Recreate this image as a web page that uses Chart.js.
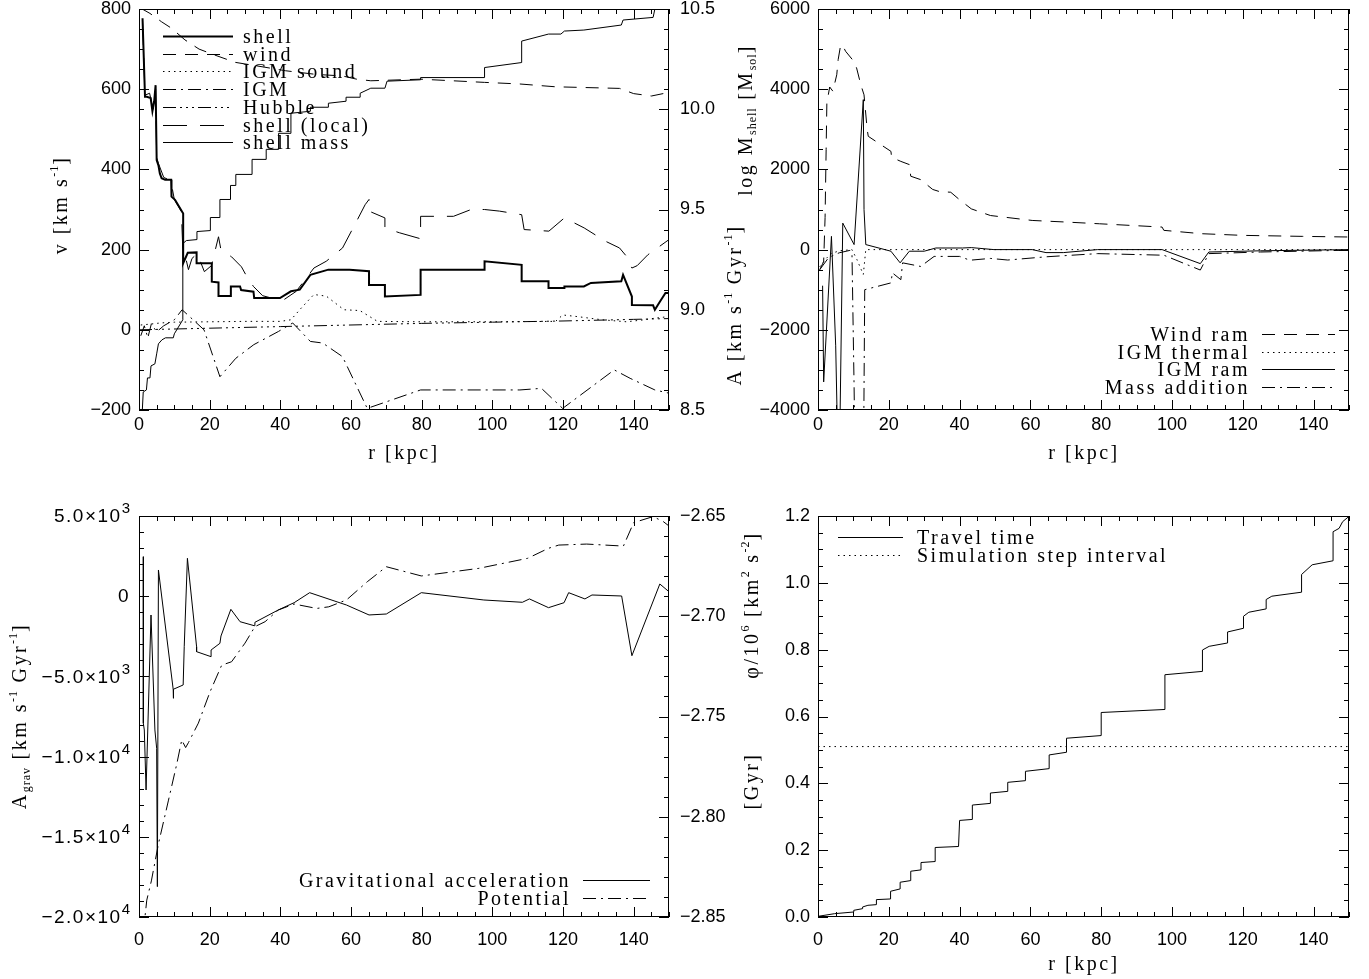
<!DOCTYPE html>
<html>
<head>
<meta charset="utf-8">
<script src="https://cdn.jsdelivr.net/npm/chart.js@4.4.1/dist/chart.umd.min.js"></script>
<style>
html, body { margin: 0; padding: 0; background: #fff; }
#wrap { position: relative; width: 1369px; height: 979px; }
#wrap canvas { position: absolute; left: 0; top: 0; }
</style>
</head>
<body>
<div id="wrap">
  <canvas id="c1" width="1369" height="979"></canvas>
  <canvas id="c2" width="1369" height="979"></canvas>
  <canvas id="c3" width="1369" height="979"></canvas>
  <canvas id="c4" width="1369" height="979"></canvas>
</div>
<script>
// ---- panel 1: velocities (left axis) and shell mass (right axis) ----
const shellR = [1.0, 1.7, 2.2, 3.3, 3.8, 4.3, 4.7, 5.0, 5.5, 5.9, 6.4, 7.4, 9.1, 9.2, 10.2, 12.5, 12.5, 13.8, 16.3, 16.3, 20.6, 20.6, 22.5, 22.5, 26.0, 26.0, 28.6, 28.9, 32.4, 32.6, 39.9, 43.0, 45.5, 48.5, 53.6, 59.6, 65.1, 65.1, 69.6, 69.6, 79.7, 79.7, 97.8, 97.8, 108.3, 108.3, 115.9, 115.9, 120.4, 120.4, 125.9, 127.9, 136.5, 137.0, 139.5, 139.5, 145.5, 146.0, 147.5, 149.0, 150.0];
const shellV = [777, 581, 581, 578, 545, 570, 610, 423, 410, 390, 378, 374, 374, 332, 324, 290, 166, 192, 193, 166, 166, 120, 118, 84, 84, 108, 108, 99, 95, 79, 79, 96, 100, 137, 150, 150, 146, 112, 112, 83, 87, 150, 150, 171, 162, 121, 121, 104, 104, 108, 108, 117, 121, 137, 83, 62, 61, 50, 71, 92, 92];

const windR = [0.5, 3.1, 6.4, 9.2, 13.0, 17.0, 21.5, 27.2, 35.5, 41.5, 50.0, 57.6, 61.6, 65.6, 79.7, 97.8, 107.8, 117.9, 136.0, 140.0, 145.0, 150.0];
const windV = [802, 789, 768, 752, 723, 700, 685, 667, 655, 646, 637, 633, 625, 621, 625, 617, 613, 606, 602, 589, 583, 592];

const soundR = [0.5, 3.0, 6.0, 10.0, 20.0, 30.0, 40.0, 43.0, 46.0, 49.5, 53.0, 58.0, 62.5, 67.5, 80.0, 100.0, 117.9, 119.9, 124.0, 131.0, 138.0, 143.0, 146.0, 150.0];
const soundV = [12, 14, 17, 19, 20, 21, 21, 25, 55, 88, 84, 50, 48, 21, 20, 20, 21, 37, 33, 25, 20, 25, 29, 33];

const igmR = [0.5, 1.5, 2.5, 3.5, 5.0, 7.0, 10.0, 12.2, 18.4, 22.9, 27.4, 32.5, 39.5, 43.5, 48.5, 52.0, 57.6, 64.6, 79.7, 97.8, 107.8, 113.9, 119.9, 134.5, 139.0, 146.0, 150.0];
const igmV = [-15, 10, -20, 15, -5, 10, 25, 50, 0, -117, -71, -37, -4, 17, -29, -33, -67, -196, -150, -150, -150, -146, -196, -100, -121, -150, -158];

const hubbleR = [0, 20, 40, 60, 80, 100, 120, 140, 150];
const hubbleV = [0, 4, 8, 12, 16, 19, 22, 26, 28];

const localR = [1.0, 1.7, 3.0, 4.0, 4.7, 5.0, 5.5, 7.0, 9.0, 10.0, 12.0, 12.4, 13.2, 14.0, 15.0, 16.5, 18.5, 20.5, 22.5, 23.2, 26.2, 29.0, 30.5, 32.4, 35.0, 38.0, 41.0, 44.5, 49.5, 53.0, 57.6, 61.6, 64.0, 65.1, 65.1, 69.6, 69.6, 73.7, 79.7, 79.7, 89.0, 94.0, 97.8, 102.0, 108.3, 109.0, 116.0, 120.4, 126.0, 132.0, 136.0, 138.0, 139.5, 141.0, 144.0, 150.0];
const localV = [770, 585, 590, 550, 600, 430, 415, 380, 372, 325, 295, 200, 180, 150, 178, 190, 145, 160, 232, 199, 182, 157, 133, 108, 85, 78, 75, 96, 154, 171, 204, 271, 312, 325, 296, 279, 254, 242, 227, 283, 283, 300, 300, 296, 287, 250, 246, 279, 254, 221, 204, 183, 154, 160, 187, 225];

const massR = [0.8, 1.2, 2.1, 2.4, 3.1, 3.4, 4.5, 5.0, 5.5, 6.5, 7.5, 9.7, 10.0, 12.4, 12.4, 13.4, 16.4, 16.4, 20.2, 20.2, 22.9, 22.9, 25.9, 25.9, 27.4, 27.4, 32.0, 32.0, 36.0, 36.0, 39.5, 39.5, 43.0, 43.0, 48.5, 48.5, 53.6, 53.6, 58.6, 58.6, 62.6, 62.6, 65.6, 69.6, 70.2, 79.7, 79.7, 97.8, 97.8, 108.3, 108.3, 115.9, 119.4, 120.4, 125.9, 136.5, 137.0, 145.5, 146.0, 150.0];
const massM = [8.45, 8.59, 8.60, 8.66, 8.66, 8.72, 8.73, 8.78, 8.83, 8.85, 8.86, 8.86, 8.88, 8.95, 9.33, 9.345, 9.35, 9.39, 9.395, 9.46, 9.46, 9.55, 9.55, 9.62, 9.62, 9.675, 9.675, 9.75, 9.75, 9.80, 9.80, 9.88, 9.88, 9.98, 9.99, 10.01, 10.01, 10.03, 10.04, 10.06, 10.06, 10.08, 10.105, 10.105, 10.14, 10.147, 10.158, 10.158, 10.208, 10.233, 10.34, 10.375, 10.375, 10.39, 10.395, 10.42, 10.445, 10.458, 10.50, 10.51];

// ---- panel 2: accelerations ----
const windRamR = [0.5, 1.6, 2.0, 2.3, 2.5, 3.3, 4.2, 5.3, 5.7, 6.4, 6.9, 7.8, 9.7, 10.9, 12.1, 13.0, 13.9, 14.2, 20.6, 20.8, 23.4, 25.8, 26.2, 29.0, 32.4, 34.2, 37.5, 39.9, 43.3, 48.7, 60.5, 70.3, 79.5, 97.2, 97.7, 108.4, 120.0, 136.8, 150.0];
const windRamA = [-500, -300, 800, 2500, 3650, 4055, 3950, 4360, 4740, 5100, 5100, 4945, 4740, 4530, 4110, 3860, 2990, 2825, 2450, 2300, 2200, 2120, 1830, 1745, 1500, 1450, 1430, 1250, 1016, 850, 727, 686, 644, 562, 480, 396, 355, 330, 314];

const thermR = [0.5, 2.0, 3.7, 6.0, 9.6, 11.0, 12.8, 13.5, 150.0];
const thermA = [-430, -250, -100, -30, 0, -250, -620, 0, 0];

const ramR = [1.3, 1.6, 3.8, 5.0, 5.6, 6.1, 7.0, 10.2, 12.8, 13.0, 13.5, 20.6, 23.2, 25.8, 30.0, 33.3, 40.8, 43.3, 49.7, 60.5, 64.4, 69.3, 79.0, 97.2, 108.0, 110.4, 125.0, 150.0];
const ramA = [-900, -3300, 330, -2400, -5000, -5000, 660, 125, 3740, 1000, 125, -40, -330, -40, -40, 40, 40, 50, 0, 0, -75, -75, 0, 0, -350, -60, -30, 0];

const massAddR = [0.5, 3.0, 6.0, 9.0, 9.6, 10.2, 10.6, 12.8, 13.2, 20.6, 21.0, 23.4, 23.9, 29.0, 32.8, 40.0, 42.9, 48.7, 53.6, 64.4, 79.0, 97.7, 108.0, 110.4, 125.0, 150.0];
const massAddA = [-500, -200, -80, -20, -100, -3450, -6000, -6000, -1000, -830, -580, -750, -330, -420, -170, -170, -265, -220, -260, -180, -100, -140, -510, -100, -60, -15];

// ---- panel 3: gravitational acceleration and potential ----
const gravR = [1.23, 1.23, 1.5, 2.0, 3.4, 4.5, 5.0, 5.2, 5.5, 9.7, 9.7, 9.8, 12.5, 12.8, 13.7, 16.3, 16.3, 20.4, 20.4, 22.9, 23.2, 26.0, 28.6, 32.6, 32.8, 39.4, 43.9, 48.3, 58.7, 65.1, 70.0, 79.9, 97.6, 108.5, 110.5, 115.9, 120.3, 121.6, 126.2, 128.2, 136.6, 139.5, 147.4, 150.0];
const gravA = [2463, -7925, -8341, -12081, -1172, -8341, -9483, -18107, 1634, -5847, -6367, -5800, -5535, -3148, 2363, -3148, -3459, -3771, -3354, -2938, -2481, -818, -1589, -1838, -1628, -860, -405, 219, -548, -1170, -1110, 219, -236, -380, -170, -715, -405, 219, -170, 75, 13, -3710, 760, 280];

const phiR = [1.2, 2.2, 3.5, 5.5, 8.3, 10.7, 12.1, 13.2, 14.0, 16.8, 20.1, 23.4, 26.2, 30.0, 32.8, 35.7, 39.4, 43.9, 50.3, 53.7, 58.7, 64.6, 70.0, 79.9, 96.2, 110.0, 115.9, 118.8, 126.7, 137.1, 140.0, 145.5, 148.4, 150.0];
const phiV = [-2.858, -2.8416, -2.832, -2.8135, -2.7921, -2.7736, -2.7617, -2.7655, -2.763, -2.7533, -2.7377, -2.7244, -2.7227, -2.7134, -2.7052, -2.7027, -2.6969, -2.6939, -2.6961, -2.6953, -2.6919, -2.6828, -2.6753, -2.6799, -2.6761, -2.6711, -2.6661, -2.6645, -2.664, -2.665, -2.6533, -2.6503, -2.6528, -2.655];

// ---- panel 4: travel time ----
const travelR = [0, 4.7, 10.1, 10.1, 12.6, 12.6, 14.1, 16.5, 16.5, 20.5, 20.5, 23.2, 23.2, 26.2, 26.2, 29.1, 29.1, 33.1, 33.1, 39.7, 40.0, 43.6, 43.6, 48.7, 48.7, 53.6, 53.6, 58.6, 58.6, 65.3, 65.3, 70.2, 70.2, 80.0, 80.0, 98.0, 98.0, 108.6, 108.6, 110.5, 115.7, 115.7, 120.2, 120.2, 121.7, 126.6, 126.6, 128.2, 136.6, 136.6, 139.6, 145.5, 145.5, 147.2, 148.2, 149.9];
const travelT = [0.002, 0.01, 0.015, 0.02, 0.025, 0.03, 0.035, 0.037, 0.052, 0.054, 0.077, 0.084, 0.104, 0.109, 0.137, 0.141, 0.163, 0.166, 0.208, 0.211, 0.289, 0.292, 0.335, 0.34, 0.371, 0.376, 0.403, 0.408, 0.436, 0.444, 0.485, 0.493, 0.535, 0.543, 0.612, 0.621, 0.725, 0.735, 0.799, 0.81, 0.82, 0.853, 0.864, 0.9, 0.912, 0.922, 0.95, 0.96, 0.972, 1.025, 1.054, 1.066, 1.153, 1.163, 1.183, 1.198];

const stepR = [0, 150];
const stepT = [0.51, 0.51];

// ---- ticks and labels ----
const rTicks = [0, 20, 40, 60, 80, 100, 120, 140];
const rLabels = ['0', '20', '40', '60', '80', '100', '120', '140'];
const vTicks = [-200, 0, 200, 400, 600, 800];
const vLabels = ['\u2212200', '0', '200', '400', '600', '800'];
const massTicks = [8.5, 9.0, 9.5, 10.0, 10.5];
const massLabels = ['8.5', '9.0', '9.5', '10.0', '10.5'];
const accTicks = [-4000, -2000, 0, 2000, 4000, 6000];
const accLabels = ['\u22124000', '\u22122000', '0', '2000', '4000', '6000'];
const gravTicks = [-20000, -15000, -10000, -5000, 0, 5000];
const gravMant = ['\u22122.0\u00d710', '\u22121.5\u00d710', '\u22121.0\u00d710', '\u22125.0\u00d710', '0', '5.0\u00d710'];
const gravExp = ['4', '4', '4', '3', '', '3'];
const phiTicks = [-2.85, -2.80, -2.75, -2.70, -2.65];
const phiLabels = ['\u22122.85', '\u22122.80', '\u22122.75', '\u22122.70', '\u22122.65'];
const timeTicks = [0, 0.2, 0.4, 0.6, 0.8, 1.0, 1.2];
const timeLabels = ['0.0', '0.2', '0.4', '0.6', '0.8', '1.0', '1.2'];

const SANS = '"Liberation Sans", Arial, sans-serif';
const TICK_FONT = { family: SANS, size: 18 };
const SERIF = '"Liberation Serif", "Times New Roman", serif';
const LS = '2.5px';

// IDL-like line styles
const SOLID = [];
const DOT = [1.5, 4];
const DASH = [13, 9];
const DASHDOT = [13, 5, 2, 5];
const DASH3DOT = [13, 4, 2, 4, 2, 4, 2, 4];
const LONGDASH = [24, 13];

function pts(xs, ys) {
    return xs.map((x, i) => ({ x: x, y: ys[i] }));
}

function series(label, xs, ys, dash, width, axis) {
    return {
        label: label,
        data: pts(xs, ys),
        borderColor: '#000',
        borderWidth: width || 1,
        borderDash: dash,
        pointRadius: 0,
        pointHoverRadius: 0,
        tension: 0,
        fill: false,
        yAxisID: axis || 'y'
    };
}

function noPad(s) {
    s.paddingTop = 0; s.paddingBottom = 0; s.paddingLeft = 0; s.paddingRight = 0;
}

function xAxis(height, pad) {
    return {
        type: 'linear', position: 'bottom', min: 0, max: 150,
        afterBuildTicks: s => { s.ticks = rTicks.map(v => ({ value: v })); },
        afterFit: s => { s.height = height; noPad(s); },
        grid: { display: false, drawTicks: false },
        border: { display: false },
        ticks: { font: TICK_FONT, color: '#000', padding: pad, maxRotation: 0, autoSkip: false,
                 callback: (v, i) => rLabels[i] }
    };
}

function yAxis(pos, min, max, vals, labels, width, pad, show) {
    return {
        type: 'linear', position: pos, min: min, max: max,
        afterBuildTicks: s => { s.ticks = vals.map(v => ({ value: v })); },
        afterFit: s => { s.width = width; noPad(s); },
        grid: { display: false, drawTicks: false },
        border: { display: false },
        ticks: { display: show !== false, font: TICK_FONT, color: '#000', padding: pad, autoSkip: false,
                 callback: (v, i) => labels ? labels[i] : '' }
    };
}

// text with sub/superscripts, optionally rotated to read bottom-up
function drawRich(ctx, parts, x, y, rot) {
    const size = 20;
    ctx.save();
    ctx.translate(x, y);
    if (rot) ctx.rotate(-Math.PI / 2);
    ctx.fillStyle = '#000';
    ctx.textAlign = 'left';
    ctx.textBaseline = 'alphabetic';
    const segs = parts.map(p => {
        const fs = p[1] ? 12 : size;
        ctx.font = fs + 'px ' + SERIF;
        ctx.letterSpacing = p[1] ? '1px' : LS;
        return { t: p[0], k: p[1], fs: fs, w: ctx.measureText(p[0]).width };
    });
    let cx = -segs.reduce((s, g) => s + g.w, 0) / 2;
    segs.forEach(g => {
        ctx.font = g.fs + 'px ' + SERIF;
        ctx.letterSpacing = g.k ? '1px' : LS;
        const dy = g.k === '^' ? -size * 0.42 : (g.k === '_' ? size * 0.22 : 0);
        ctx.fillText(g.t, cx, size * 0.33 + dy);
        cx += g.w;
    });
    ctx.restore();
}

// y tick labels written as mantissa x 10^exp, placed by the scale
function drawPowerLabels(chart, scaleId, vals, mant, exps, gap) {
    const s = chart.scales[scaleId], a = chart.chartArea, ctx = chart.ctx;
    ctx.save();
    ctx.fillStyle = '#000';
    ctx.textAlign = 'left';
    ctx.textBaseline = 'middle';
    vals.forEach((v, i) => {
        const p = s.getPixelForValue(v);
        ctx.letterSpacing = '1.5px';
        ctx.font = '19px ' + SANS;
        const wm = ctx.measureText(mant[i]).width;
        ctx.font = '15px ' + SANS;
        ctx.letterSpacing = '0px';
        const we = exps[i] ? ctx.measureText(exps[i]).width : 0;
        const x0 = a.left - gap - we - wm;
        ctx.font = '19px ' + SANS;
        ctx.letterSpacing = '1.5px';
        ctx.fillText(mant[i], x0, p + 1);
        if (exps[i]) {
            ctx.font = '15px ' + SANS;
            ctx.letterSpacing = '0px';
            ctx.fillText(exps[i], x0 + wm, p - 7);
        }
    });
    ctx.restore();
}

function drawTicks(chart, t) {
    const s = chart.scales[t.scale], a = chart.chartArea, ctx = chart.ctx;
    const n = Math.round((s.max - s.min) / t.minor);
    ctx.beginPath();
    const mark = (v, len) => {
        const p = Math.round(s.getPixelForValue(v)) + 0.5;
        if (t.side === 'bottom') { ctx.moveTo(p, a.bottom); ctx.lineTo(p, a.bottom - len); }
        else if (t.side === 'top') { ctx.moveTo(p, a.top); ctx.lineTo(p, a.top + len); }
        else if (t.side === 'left') { ctx.moveTo(a.left, p); ctx.lineTo(a.left + len, p); }
        else { ctx.moveTo(a.right, p); ctx.lineTo(a.right - len, p); }
    };
    for (let i = 0; i <= n; i++) mark(s.min + i * t.minor, 5);
    t.major.forEach(v => mark(v, 10));
    ctx.stroke();
}

function drawLegend(chart, lg) {
    const ctx = chart.ctx;
    lg.items.forEach((idx, k) => {
        const ds = chart.data.datasets[idx];
        const y = Math.round(lg.y0 + k * lg.dy) + 0.5;
        ctx.beginPath();
        ctx.setLineDash(ds.borderDash);
        ctx.lineWidth = ds.borderWidth;
        ctx.strokeStyle = '#000';
        ctx.moveTo(lg.x0, y);
        ctx.lineTo(lg.x1, y);
        ctx.stroke();
        ctx.setLineDash([]);
        ctx.font = '20px ' + SERIF;
        ctx.letterSpacing = LS;
        ctx.fillStyle = '#000';
        ctx.textAlign = lg.align;
        ctx.textBaseline = 'middle';
        ctx.fillText(ds.label, lg.tx, y + 1);
        ctx.letterSpacing = '0px';
    });
}

const rTitle = [['r [kpc]', '']];
const decorations = {
    c1: {
        ticks: [
            { scale: 'x', side: 'bottom', major: rTicks, minor: 5 },
            { scale: 'x', side: 'top', major: rTicks, minor: 5 },
            { scale: 'y', side: 'left', major: vTicks, minor: 50 },
            { scale: 'y2', side: 'right', major: massTicks, minor: 0.1 }
        ],
        titles: [
            { parts: [['v [km s', ''], ['-1', '^'], [']', '']], x: 60, y: 205, rot: true },
            { parts: [['log M', ''], ['shell', '_'], [' [M', ''], ['sol', '_'], [']', '']], x: 745, y: 120, rot: true },
            { parts: rTitle, x: 404, y: 452, rot: false }
        ],
        legend: { items: [0, 1, 2, 3, 4, 5, 6], x0: 163, x1: 233, tx: 243, align: 'left', y0: 36, dy: 17.7 }
    },
    c2: {
        ticks: [
            { scale: 'x', side: 'bottom', major: rTicks, minor: 5 },
            { scale: 'x', side: 'top', major: rTicks, minor: 5 },
            { scale: 'y', side: 'left', major: accTicks, minor: 500 },
            { scale: 'y', side: 'right', major: accTicks, minor: 500 }
        ],
        titles: [
            { parts: [['A [km s', ''], ['-1', '^'], [' Gyr', ''], ['-1', '^'], [']', '']], x: 734, y: 305, rot: true },
            { parts: rTitle, x: 1084, y: 452, rot: false }
        ],
        legend: { items: [0, 1, 2, 3], x0: 1262, x1: 1335, tx: 1250, align: 'right', y0: 334, dy: 17.7 }
    },
    c3: {
        ticks: [
            { scale: 'x', side: 'bottom', major: rTicks, minor: 5 },
            { scale: 'x', side: 'top', major: rTicks, minor: 5 },
            { scale: 'y', side: 'left', major: gravTicks, minor: 1000 },
            { scale: 'y2', side: 'right', major: phiTicks, minor: 0.01 }
        ],
        powers: true,
        titles: [
            { parts: [['A', ''], ['grav', '_'], [' [km s', ''], ['-1', '^'], [' Gyr', ''], ['-1', '^'], [']', '']], x: 19, y: 716, rot: true },
            { parts: [['\u03c6/10', ''], ['6', '^'], [' [km', ''], ['2', '^'], [' s', ''], ['-2', '^'], [']', '']], x: 751, y: 605, rot: true }
        ],
        legend: { items: [0, 1], x0: 583, x1: 650, tx: 571, align: 'right', y0: 880, dy: 17.5 }
    },
    c4: {
        ticks: [
            { scale: 'x', side: 'bottom', major: rTicks, minor: 5 },
            { scale: 'x', side: 'top', major: rTicks, minor: 5 },
            { scale: 'y', side: 'left', major: timeTicks, minor: 0.05 },
            { scale: 'y', side: 'right', major: timeTicks, minor: 0.05 }
        ],
        titles: [
            { parts: [['[Gyr]', '']], x: 751, y: 781, rot: true },
            { parts: rTitle, x: 1084, y: 963, rot: false }
        ],
        legend: { items: [0, 1], x0: 838, x1: 903, tx: 917, align: 'left', y0: 537, dy: 17.5 }
    }
};

const decor = {
    id: 'decor',
    afterDatasetsDraw(chart) {
        const cfg = decorations[chart.canvas.id];
        const ctx = chart.ctx, a = chart.chartArea;
        ctx.save();
        ctx.strokeStyle = '#000';
        ctx.lineWidth = 1;
        ctx.setLineDash([]);
        ctx.strokeRect(a.left + 0.5, a.top + 0.5, a.right - a.left - 1, a.bottom - a.top - 1);
        cfg.ticks.forEach(t => drawTicks(chart, t));
        cfg.titles.forEach(t => drawRich(ctx, t.parts, t.x, t.y, t.rot));
        if (cfg.powers) drawPowerLabels(chart, 'y', gravTicks, gravMant, gravExp, 9);
        drawLegend(chart, cfg.legend);
        ctx.restore();
    }
};

function makeChart(id, datasets, padding, scales) {
    return new Chart(document.getElementById(id), {
        type: 'line',
        data: { datasets: datasets },
        options: {
            responsive: false,
            animation: false,
            events: [],
            layout: { padding: padding },
            plugins: { legend: { display: false }, tooltip: { enabled: false } },
            scales: scales
        },
        plugins: [decor]
    });
}

makeChart('c1', [
    series('shell', shellR, shellV, SOLID, 2),
    series('wind', windR, windV, DASH),
    series('IGM sound', soundR, soundV, DOT),
    series('IGM', igmR, igmV, DASHDOT),
    series('Hubble', hubbleR, hubbleV, DASH3DOT),
    series('shell (local)', localR, localV, LONGDASH),
    series('shell mass', massR, massM, SOLID, 1, 'y2')
], { top: 9, left: 0, right: 0, bottom: 0 }, {
    x: xAxis(569, 4),
    y: yAxis('left', -200, 800, vTicks, vLabels, 139, 8),
    y2: yAxis('right', 8.5, 10.5, massTicks, massLabels, 700, 11)
});

makeChart('c2', [
    series('Wind ram', windRamR, windRamA, DASH),
    series('IGM thermal', thermR, thermA, DOT),
    series('IGM ram', ramR, ramA, SOLID),
    series('Mass addition', massAddR, massAddA, DASHDOT)
], { top: 9, left: 0, right: 20, bottom: 0 }, {
    x: xAxis(569, 4),
    y: yAxis('left', -4000, 6000, accTicks, accLabels, 818, 8)
});

makeChart('c3', [
    series('Gravitational acceleration', gravR, gravA, SOLID),
    series('Potential', phiR, phiV, DASHDOT, 1, 'y2')
], { top: 516, left: 0, right: 0, bottom: 0 }, {
    x: xAxis(62, 12),
    y: yAxis('left', -20000, 5000, gravTicks, null, 139, 8, false),
    y2: yAxis('right', -2.85, -2.65, phiTicks, phiLabels, 700, 11)
});

makeChart('c4', [
    series('Travel time', travelR, travelT, SOLID),
    series('Simulation step interval', stepR, stepT, DOT)
], { top: 516, left: 0, right: 20, bottom: 0 }, {
    x: xAxis(62, 12),
    y: yAxis('left', 0, 1.2, timeTicks, timeLabels, 818, 8)
});
</script>
</body>
</html>
